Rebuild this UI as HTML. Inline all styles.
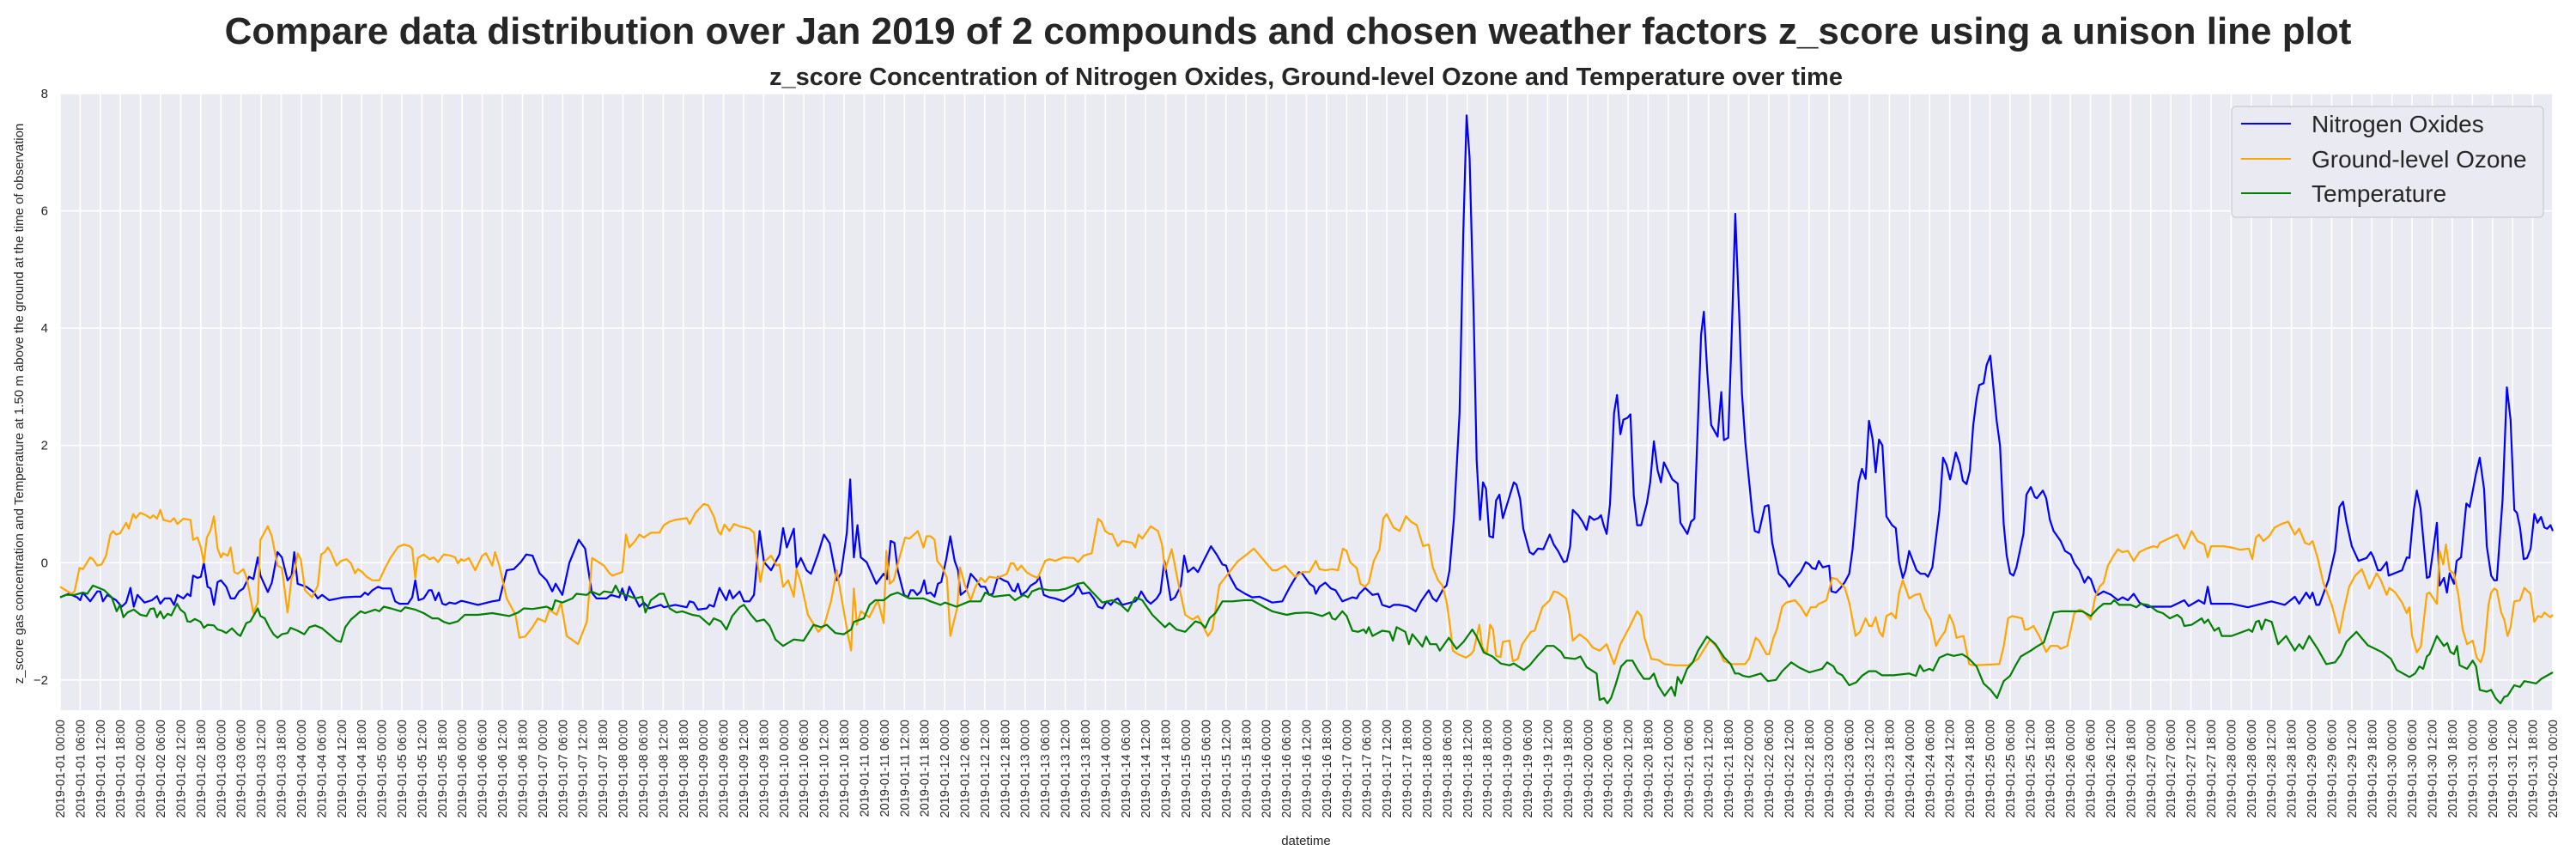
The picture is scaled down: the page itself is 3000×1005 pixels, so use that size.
<!DOCTYPE html>
<html><head><meta charset="utf-8">
<style>
html,body{margin:0;padding:0;background:#fff;}
body{width:3000px;height:1000px;overflow:hidden;font-family:"Liberation Sans",Arial,sans-serif;}
svg text{font-family:"Liberation Sans",Arial,sans-serif;}
</style></head>
<body>
<svg id="chart" width="3000" height="1000" xmlns="http://www.w3.org/2000/svg">
<text x="1500" y="51" text-anchor="middle" font-size="44" font-weight="bold" fill="#262626">Compare data distribution over Jan 2019 of 2 compounds and chosen weather factors z_score using a unison line plot</text>
<text x="1521" y="99" text-anchor="middle" font-size="29" font-weight="bold" fill="#262626">z_score Concentration of Nitrogen Oxides, Ground-level Ozone and Temperature over time</text>
<rect x="70" y="109" width="2903" height="718" fill="#eaeaf2"/>
<g id="grid"></g>
<g id="series"></g>
<g id="yticks"></g>
<g id="xticks"></g>
<text transform="translate(27,470) rotate(-90)" text-anchor="middle" font-size="15" fill="#262626">z_score gas concentration and Temperature at 1.50 m above the ground at the time of observation</text>
<text x="1521" y="984" text-anchor="middle" font-size="15" fill="#262626">datetime</text>
<g>
<rect x="2599" y="124" width="363" height="129" rx="5" fill="#eaeaf2" stroke="#d0d0d8" stroke-width="1.5"/>
<line x1="2610" y1="144" x2="2668" y2="144" stroke="#0000ff" stroke-width="2"/>
<text x="2692" y="154" font-size="28" fill="#262626">Nitrogen Oxides</text>
<line x1="2610" y1="185" x2="2668" y2="185" stroke="#ffa500" stroke-width="2"/>
<text x="2692" y="195" font-size="28" fill="#262626">Ground-level Ozone</text>
<line x1="2610" y1="225" x2="2668" y2="225" stroke="#008000" stroke-width="2"/>
<text x="2692" y="235" font-size="28" fill="#262626">Temperature</text>
</g>
</svg>
<script>
const yTickValues=[-2,0,2,4,6,8];
const yTickLabels=["\u22122","0","2","4","6","8"];
const noxHours=[0,2.6,5.1,6,6.8,9,11.1,12,12.8,14.1,16.7,18.4,19.7,21,22,23.1,25.2,27.4,28.9,29.9,31.2,32.9,34,35,36.8,38,38.9,39.7,41,42,42.9,44,44.9,45.9,47,48,49.6,50.9,52.1,53.4,54.7,56.4,57.7,59,59.8,62,63.2,64.9,66.2,67.9,69.1,69.9,70.9,73.5,75.6,76.9,78.2,80.3,82.9,84.6,88,89.7,91,91.9,93.2,94.9,96.2,98.7,100,101.3,103.8,105.1,106,107,108.5,110.1,110.9,112,113,114.1,115.1,116.2,117.9,119.7,
120.5,124.7,129,131.1,133.3,135.4,137.5,139.1,141,143.1,145.2,146.9,147.9,149.9,152,154.8,156.7,158.7,160.1,163.1,164.4,166.9,167.8,168.9,169.9,172.9,174.2,175.9,179.3,180.2,183.6,187,187.9,189.1,190.4,193,193.8,195.1,196.8,198.8,199.8,200.8,202.8,204.1,205.8,207.1,208.8,210.1,212.2,214.7,215.8,216.9,219,219.8,221.1,222.8,224.1,226.3,228,229.7,231.8,233.1,234.8,235.8,236.9,238,239,240.7,243.6,245.8,246.8,247.9,
249,250,251.9,253,253.9,254.7,255.8,256.9,257.9,258.7,259.8,261,262,263,264.5,265.7,267,268,268.8,270.5,271.8,273.5,274.8,276.1,277.3,278.4,279.9,281.6,282.9,284.2,285,285.9,286.9,288.4,289.7,291.4,292.3,293.6,295.3,297,299.5,302.5,303.8,305.1,307.2,308.5,309.8,311.1,312.4,313.6,314.7,315.7,317,320.9,321.7,322.7,324.3,325.5,327.3,328.4,329.6,331.5,332.8,334.5,335.5,336.6,338.3,339.6,341.8,343.5,345.2,346.9,348,349,351.1,353.7,355.8,358,361.8,364.8,366.9,369.7,370.8,
372.9,374.2,374.8,375.9,377.6,379.3,380.7,382.7,385.7,387,387.8,389.5,391.7,393.4,394.6,396.8,398,399.8,402.3,404.6,406.2,408.5,409.7,410.8,413,413.8,414.7,416,417.7,418.8,419.8,420.7,421.9,422.8,423.8,424.7,425.6,426.6,427.7,428.6,429.6,430.6,433.9,434.7,435.8,436.7,438.6,439.7,441.1,442.7,444.6,445.8,447.1,448.8,449.7,450.7,451.5,453.1,454.4,455.6,456.5,457.8,459.1,459.9,460.8,461.6,462.6,463.8,464.7,465.7,466.6,467.8,468.7,469.7,470.7,471.9,473.6,474.6,475.7,476.8,477.8,478.7,481.2,482.8,483.6,485.7,486.8,487.8,489.8,490.6,491.6,492.8,494.7,495.8,496.6,497.9,
499,500,501.2,502,503,505,505.8,507,508.8,509.9,511,513,515,516.1,518,519.5,521,522.1,522.9,524,524.9,526.1,528,528.7,530,531.4,532.7,534,535,536.8,537.8,538.9,539.9,541,541.9,542.9,543.9,545.1,546.8,547.9,548.9,550,550.8,551.9,554.1,555.3,556.6,557.5,558.8,560.9,562,563,564.1,565.8,567,567.9,569,570,571,572,572.8,574.1,575,576.1,578,579,580.1,581,582,583,583.9,586,586.9,588.2,589.4,590,591.8,592.8,593.9,595,597.1,598.4,600.1,601.2,602.7,604.2,605.3,606.1,607.4,608.2,609.9,612.2,614.2,615.6,617.2,618.9,620.6,623.1,
624,630,634,635.3,638.3,640,641,642,648,653,660,664,667,668.3,670.4,671.5,672.3,673.4,674.3,677,679,680.3,681.4,682.4,684,686,688.4,689.7,690.5,691.8,692.6,694.4,695,699,700.4,701.2,702.5,703.4,704.5,706.4,707.2,709.4,710.2,711.5,712.4,713.2,714.5,715.3,716.6,718.2,719.2,721,722.2,723.5,724.3,725.6,726.5,727.3,729,730.3,731.4,732.5,733.3,734.2,735.3,736.3,737.4,738.5,739.4,740.5,741.5,742.3,743.3,744];
const noxValues=[-0.59,-0.53,-0.59,-0.64,-0.51,-0.66,-0.49,-0.49,-0.66,-0.55,-0.64,-0.75,-0.68,-0.43,-0.75,-0.55,-0.68,-0.64,-0.57,-0.70,-0.61,-0.61,-0.72,-0.55,-0.61,-0.53,-0.57,-0.22,-0.26,-0.24,0,-0.41,-0.44,-0.72,-0.33,-0.30,-0.41,-0.61,-0.61,-0.49,-0.44,-0.24,-0.28,0.09,-0.22,-0.50,-0.34,0.18,0.09,-0.30,-0.22,0.18,-0.36,-0.41,-0.50,-0.61,-0.55,-0.64,-0.61,-0.59,-0.58,-0.58,-0.51,-0.55,-0.47,-0.41,-0.44,-0.44,-0.66,-0.70,-0.70,-0.59,-0.30,-0.64,-0.61,-0.47,-0.47,-0.64,-0.51,-0.70,-0.72,-0.68,-0.70,-0.65,
-0.66,-0.72,-0.66,-0.64,-0.13,-0.11,0.01,0.14,0.12,-0.18,-0.30,-0.49,-0.36,-0.55,0,0.39,0.24,-0.51,-0.61,-0.61,-0.55,-0.59,-0.44,-0.64,-0.41,-0.75,-0.68,-0.78,-0.72,-0.76,-0.72,-0.76,-0.66,-0.68,-0.80,-0.78,-0.72,-0.75,-0.43,-0.64,-0.47,-0.61,-0.49,-0.66,-0.66,-0.55,0.54,0.01,-0.13,0.14,0.59,0.26,0.58,-0.08,0.08,-0.13,-0.19,0.16,0.48,0.33,-0.30,-0.18,0.51,1.42,0.09,0.64,0.09,0.01,-0.36,-0.19,-0.28,0.37,
0.34,-0.13,-0.55,-0.59,-0.47,-0.47,-0.55,-0.49,-0.30,-0.53,-0.51,-0.58,-0.36,-0.33,0.06,0.45,0.03,-0.13,-0.55,-0.47,-0.19,-0.30,-0.41,-0.41,-0.55,-0.53,-0.24,-0.30,-0.33,-0.47,-0.49,-0.36,-0.55,-0.49,-0.39,-0.33,-0.24,-0.55,-0.59,-0.61,-0.66,-0.53,-0.39,-0.53,-0.51,-0.61,-0.75,-0.78,-0.66,-0.72,-0.64,-0.61,-0.72,-0.66,-0.61,-0.49,-0.64,-0.70,-0.61,-0.51,0.03,-0.64,-0.59,-0.39,0.12,-0.16,-0.08,-0.16,0.09,0.28,0.14,-0.03,-0.05,-0.22,-0.44,-0.53,-0.59,-0.58,-0.68,-0.66,-0.43,-0.16,-0.19,
-0.36,-0.41,-0.53,-0.41,-0.34,-0.44,-0.47,-0.66,-0.59,-0.61,-0.53,-0.43,-0.55,-0.53,-0.72,-0.76,-0.72,-0.72,-0.75,-0.83,-0.66,-0.47,-0.61,-0.66,-0.43,-0.39,-0.13,0.75,2.55,5.6,7.63,6.9,4.26,1.75,0.73,1.37,1.26,0.45,0.43,1.06,1.16,0.76,1.37,1.33,1.08,0.58,0.18,0.14,0.24,0.23,0.48,0.31,0.20,0.01,0.03,0.28,0.90,0.81,0.70,0.56,0.79,0.73,0.76,0.81,0.62,0.49,1.0,2.55,2.86,2.19,2.44,2.47,2.53,1.14,0.64,0.64,1.01,1.37,2.07,1.58,1.37,1.71,1.42,1.35,0.68,0.49,0.70,0.75,3.89,4.28,3.27,2.35,2.15,2.91,2.09,2.13,
4.0,5.95,4.18,2.88,2.05,0.87,0.54,0.51,0.96,0.98,0.34,-0.19,-0.30,-0.41,-0.26,-0.16,0.01,-0.03,-0.09,-0.11,0.03,-0.08,-0.05,-0.49,-0.51,-0.43,-0.33,-0.19,0.23,1.37,1.60,1.43,2.42,2.10,1.54,2.10,2.0,0.79,0.64,0.59,0.01,-0.26,-0.13,0.20,-0.13,-0.19,-0.19,-0.24,-0.08,0.89,1.79,1.67,1.42,1.88,1.68,1.40,1.34,1.57,2.34,2.80,3.03,3.06,3.37,3.53,2.42,2.0,0.66,0.12,-0.18,-0.22,-0.08,0.49,1.16,1.29,1.12,1.10,1.23,1.10,0.73,0.54,0.37,0.20,0.14,-0.01,-0.13,-0.34,-0.24,-0.28,-0.49,-0.55,-0.49,-0.55,-0.64,-0.59,-0.64,-0.53,-0.68,-0.76,
-0.75,-0.75,-0.64,-0.74,-0.64,-0.70,-0.41,-0.70,-0.70,-0.76,-0.66,-0.72,-0.58,-0.70,-0.51,-0.61,-0.51,-0.72,-0.72,-0.30,0.20,0.95,1.04,0.70,0.28,0.03,0.08,0.18,0.09,-0.13,-0.13,0.01,-0.22,-0.13,0.09,0.08,0.90,1.23,0.93,-0.26,-0.24,0.68,-0.39,-0.26,-0.51,-0.18,-0.36,0.03,0.09,1.01,0.95,1.5,1.79,1.25,0.28,-0.22,-0.30,-0.30,1.08,2.99,2.44,0.90,0.85,0.60,0.06,0.08,0.24,0.83,0.68,0.78,0.60,0.58,0.64,0.54];
const ozoneHours=[0,1.7,3.4,4.3,5.8,6.8,9,9.8,11.1,12.4,13.7,15,15.8,16.7,17.9,19.7,20.5,21.8,22.6,23.9,25.6,26.9,27.8,28.9,29.9,30.8,32.9,34,35,36.8,38.9,39.7,41,42,42.9,43.8,44.9,45.9,47,48,48.7,50,50.9,52,53,54.7,55.6,56.4,57.7,59,59.8,62,63.2,64.9,66.2,67.9,69.1,70.1,70.9,71.8,73.1,75.2,76.9,77.9,79,79.9,80.8,82.5,83.8,85.5,86.8,88,88.9,90.2,91.5,93.2,95.3,97,98.7,100.9,102.6,104.3,105.1,106,106.8,108.5,110.3,111.5,112.8,114.5,116.6,117.9,118.7,119.7,
120.5,122,123.9,126,127.1,129,129.8,131.1,133.3,135.9,137.1,138.8,141,142.6,144.8,146,148.2,149.5,151.2,154.6,157.2,158.8,162.3,164,164.8,167.8,168.9,169.9,171.6,172.9,174.2,176.3,178.9,180.2,181.9,183.6,187,187.9,189.6,192.1,193.4,195.1,196.4,197.2,198.3,199.8,201.1,202.8,205.8,207.1,207.9,209,210.1,212.2,213.9,214.7,215.8,217.3,219,219.8,221.1,223.2,226.3,228,230.1,231.8,234,235.2,236.1,236.9,237.8,239,241.5,244.1,245.8,246.6,247.6,
248.8,250.5,252.2,253.5,256,257.7,258.6,259.8,261,261.8,263.3,264.7,265.7,267.8,268.6,270.1,271.8,273.2,274.8,276.1,277.3,279.5,281.4,282.6,283.7,284.6,285.7,286.9,288.4,290.1,291.8,294,295.3,297,299.5,302.5,303.8,305.5,307.9,309.8,310.8,311.9,313.2,314,315.7,317,320,320.9,321.9,323,325.5,327.7,328.9,329.8,331.8,333.7,335.8,338,339.6,342.6,343.9,346,348.2,349.4,351.6,353.7,356.3,357.5,359.7,361.8,363.1,365.6,368.6,370.8,
372.9,374.8,375.9,377.6,379.7,381.4,382.9,384,385,387,388.1,389.5,390.6,392.1,393.8,394.9,395.9,398,399.8,401.7,403.2,404.9,406.8,408.5,409.7,411.3,412.6,413.8,414.9,415.7,417.2,419.6,421.1,421.9,423.6,424.4,425.8,426.8,427.7,428.6,429.9,430.6,432.6,433.6,435.1,436.4,439,440.1,442.4,444.6,445.8,447.1,449.5,450.5,451.5,453.5,455.6,457.5,459.5,461.6,463.8,465.7,468.4,470.7,471.9,472.9,474.9,477,478.9,482.1,485.9,488.9,492.5,494.9,496.6,
499,502.9,504.1,506.1,507.1,509.3,510.1,511.4,512.4,514,515.2,517.8,519.5,521.2,522.5,524,524.9,525.9,527.2,528.9,530.3,532.7,534,535.9,537.2,538.9,540,540.8,541.9,543,544,545.1,546.6,547.9,548.9,550,551.9,553.6,555.1,556.6,558.3,559.9,560.9,562.6,563.9,565.2,566,568.1,569.8,571.1,578.8,580.1,581.4,582.6,585.6,586.4,587.3,589,590.7,592.8,594.1,596.2,597.1,599.1,601.2,602.7,603.9,606.1,607.4,608.7,609.9,611.2,612.9,614.2,615.5,617.2,618.9,620.6,622.7,624.8,
626,626.7,629.3,631.9,634,636.2,637.9,640,641,642,645.6,648,650.7,653.3,654.3,655.4,656.3,657.6,659.3,661,663,665,667,668.3,670,671.3,672.3,673.8,675.5,678,680.3,681.5,683.2,685,687,689.2,691.4,692.7,694.4,695.2,697,699,700.4,701.2,702,703.4,704.6,706.4,707.2,709.4,710.2,711.3,712.1,713.2,714.5,715.8,717.1,718.4,720.1,721.3,722.5,723.5,724.8,725.6,726.5,727.3,728.6,729.5,730.5,731.4,732.5,734.2,735.5,737.3,738.5,739.6,740.6,741.5,743.2,744];
const ozoneValues=[-0.41,-0.47,-0.53,-0.49,-0.09,-0.11,0.09,0.06,-0.05,-0.03,0.12,0.48,0.54,0.48,0.50,0.68,0.58,0.83,0.76,0.85,0.81,0.76,0.81,0.75,0.90,0.73,0.70,0.76,0.66,0.75,0.73,0.39,0.43,0.26,0,0.43,0.55,0.79,0.24,0.09,0.16,0.12,0.26,-0.16,-0.19,-0.11,-0.24,-0.47,-0.86,-0.68,0.39,0.62,0.45,-0.05,-0.09,-0.85,-0.26,-0.13,0.16,0.06,-0.47,-0.59,-0.39,0.14,0.18,0.26,0.18,-0.05,0.03,0.06,-0.01,-0.18,-0.11,-0.16,-0.24,-0.30,-0.30,-0.09,0.09,0.27,0.31,0.28,0.24,-0.26,0.08,0.14,0.06,0.09,0.01,0.14,0.12,0.09,-0.01,0.06,
0.03,0.08,-0.13,0.12,0.16,-0.05,0.18,-0.05,-0.61,-0.89,-1.28,-1.26,-1.10,-0.95,-1.01,-0.80,-0.89,-0.68,-1.25,-1.39,-1.01,0.08,-0.05,-0.18,-0.22,-0.16,0.48,0.26,0.37,0.48,0.43,0.51,0.51,0.64,0.70,0.73,0.76,0.66,0.85,1.0,0.98,0.79,0.54,0.48,0.65,0.54,0.66,0.62,0.58,0.51,0.08,-0.33,0.01,0.12,-0.05,-0.03,-0.41,-0.30,-0.58,-0.11,-0.33,-0.89,-1.18,-1.08,-0.66,-0.13,-0.85,-1.25,-1.50,-0.44,-1.06,-0.83,-0.93,-0.64,-1.03,0.20,-0.36,
-0.30,0.08,0.43,0.41,0.54,0.26,0.45,0.45,0.39,0.03,-0.08,-0.26,-1.25,-0.76,-0.08,-0.39,-0.64,-0.41,-0.26,-0.33,-0.24,-0.26,-0.22,-0.19,-0.01,-0.01,-0.13,-0.05,-0.16,-0.22,-0.26,0.03,0.06,0.03,0.09,0.08,0.01,0.12,0.16,0.75,0.70,0.54,0.49,0.49,0.28,0.37,0.34,0.26,0.48,0.41,0.62,0.54,0.31,-0.13,0.23,-0.34,-0.89,-0.97,-0.91,-1.25,-1.14,-0.38,-0.22,-0.13,0.03,0.12,0.24,0.16,0.01,-0.13,-0.13,-0.05,-0.24,-0.16,
-0.16,0.03,-0.11,-0.13,-0.11,-0.13,0.24,0.20,0.01,-0.09,-0.36,-0.41,-0.34,0.03,0.23,0.75,0.83,0.60,0.54,0.79,0.70,0.64,0.28,0.31,-0.08,-0.30,-0.39,-0.66,-1.10,-1.50,-1.56,-1.62,-1.56,-1.50,-1.06,-1.43,-1.56,-1.06,-1.14,-1.59,-1.61,-1.35,-1.33,-1.68,-1.64,-1.39,-1.18,-1.16,-0.76,-0.64,-0.49,-0.51,-0.61,-0.89,-1.33,-1.22,-1.31,-1.45,-1.50,-1.39,-1.73,-1.39,-1.10,-0.83,-0.91,-1.28,-1.64,-1.66,-1.73,-1.75,-1.75,-1.64,-1.31,-1.47,-1.68,
-1.73,-1.73,-1.64,-1.28,-1.33,-1.56,-1.56,-1.28,-1.14,-0.75,-0.68,-0.64,-0.75,-0.91,-0.76,-0.76,-0.70,-0.68,-0.64,-0.26,-0.28,-0.43,-0.68,-1.25,-1.18,-0.95,-1.08,-1.08,-0.93,-1.18,-1.26,-0.91,-0.86,-0.95,-0.51,-0.30,-0.61,-0.55,-0.53,-0.80,-0.97,-1.42,-1.31,-1.17,-0.89,-1.06,-1.28,-1.25,-1.73,-1.75,-1.73,-1.43,-0.95,-0.91,-0.95,-1.14,-1.14,-1.08,-1.25,-1.52,-1.42,-1.42,-1.47,-1.42,-0.86,-0.80,-0.83,-0.97,-0.59,-0.41,-0.34,-0.05,0.12,0.23,0.18,0.20,0.03,0.18,0.24,0.28,
0.26,0.34,0.41,0.48,0.24,0.54,0.37,0.31,0.09,0.28,0.28,0.26,0.22,0.24,0.06,0.43,0.48,0.37,0.45,0.60,0.66,0.70,0.48,0.58,0.34,0.31,0.37,0.08,-0.34,-0.72,-1.20,-0.85,-0.41,-0.22,-0.11,-0.44,-0.18,-0.30,-0.55,-0.43,-0.51,-0.68,-0.86,-0.76,-1.25,-1.53,-1.43,-0.53,-0.51,-0.70,0.20,-0.03,0.31,-0.13,-0.19,-0.55,-1.14,-1.39,-1.33,-1.62,-1.70,-1.52,-0.72,-0.51,-0.44,-0.47,-0.85,-0.97,-1.25,-1.10,-0.66,-0.64,-0.43,-0.53,-1.01,-0.91,-0.93,-0.85,-0.93,-0.89];
const tempHours=[0,1.7,4.3,6.8,8.1,9.8,11.5,13.2,15.4,16.9,17.9,18.9,20.1,22,24,25.8,26.9,28,28.9,29.9,30.9,32.1,33.2,34.9,35.9,37.2,38,38.9,40.2,41.9,42.9,44,45.9,47,48.3,49.6,51.3,53,53.8,55.6,56.8,59,59.8,61.1,62.4,63.7,64.9,66.2,67.9,68.8,70.9,72.9,74.4,76.1,78.2,80.3,82.5,83.8,85.1,86.8,89.7,91,94,95.3,96.6,98.7,101.7,103,106,108.5,111.1,112.8,114.5,116.2,118.7,120.8,
124.7,129,134.1,136.7,138.4,141,145.2,146.9,147.8,149.9,152.9,154.1,157.2,158.5,161,162.3,164.8,165.8,166.9,171.6,173.7,174.7,176.3,178.9,180.2,181.9,184,185.7,188.7,190.8,193.8,195.1,197.2,198.9,200.6,202.8,204.1,206.2,207.9,210.1,211.8,213.5,215.8,219,221.9,224.9,227.1,228.8,231.4,233.9,236.1,236.9,239.9,241.6,243.3,245.8,247.9,
250,253.5,257.7,259.8,262.8,264.1,267.5,271.4,274.8,276.1,278.7,283.3,285,287.6,288.9,290.1,292.3,295.3,297.8,300.4,303.8,305.5,307.9,311.1,314,316.6,318.7,320.9,323,326,329.8,331.1,333.2,335.8,338.8,340.5,341.8,343.1,344.8,346.9,349.9,353.3,355.8,359.2,361.8,366.1,368.6,372.1,
373.7,376.7,378.9,379.7,380.6,382.7,384,385.7,387.4,389.1,389.8,390.6,391.7,394.6,396.8,397.8,398.9,401.5,402.6,403.6,406.6,407.7,408.9,410.8,411.8,414.5,416.8,418.9,421.5,422.8,424.9,427.5,430,432.6,433.9,436.9,438.6,441.1,443.7,445.8,448,449,452.2,453.8,455.6,458.6,459.5,460.8,461.8,462.9,464.2,465.9,467.6,469.3,471,472.7,474.4,475.7,477,478.9,480.9,482,482.8,483.9,485.6,487.3,488.9,491.5,494.1,496.6,
498.6,499.9,501,502.4,504.1,507.6,509.7,512.1,514,516.7,519.1,522.1,525.9,527.4,529.3,530.3,531.9,534,536.1,537.8,539.9,541.9,543.8,547.2,551.9,553.9,555.1,556.2,557.9,559,560.9,563.3,565.2,567.7,569.4,572,574.1,576.2,578.1,580.1,582,583.5,585.2,588.2,590,592.1,595,597.1,601,603.6,606.1,608.2,609.9,612.1,613.1,614.6,618,619.7,621,623.1,
624,625.9,627.6,629.7,631.9,633.2,634,636.2,639.2,640,641.1,643,644.3,645.2,648.1,653.3,654.3,655.4,656.3,657.1,658.2,660.1,662,664.4,667,668.3,669.4,671.3,673.8,676.4,679,680.8,682.4,685.4,688.8,691,693.1,695.7,697.4,701.2,702.9,704.2,705.3,706.4,707.2,709.4,711.5,712.5,713.4,714.5,715.4,716.2,718.4,720.1,721.1,722.2,724.3,725.6,726.9,728.4,729.5,730.5,732.5,734.2,735.5,737.3,739,740.6,744];
const tempValues=[-0.59,-0.55,-0.55,-0.51,-0.53,-0.39,-0.43,-0.47,-0.59,-0.83,-0.72,-0.93,-0.85,-0.80,-0.89,-0.91,-0.79,-0.78,-0.93,-0.83,-0.95,-0.87,-0.90,-0.70,-0.80,-0.86,-1.0,-1.01,-0.96,-1.01,-1.11,-1.06,-1.07,-1.14,-1.16,-1.20,-1.12,-1.22,-1.25,-1.03,-1.0,-0.78,-0.91,-0.95,-1.10,-1.22,-1.28,-1.22,-1.20,-1.11,-1.16,-1.22,-1.10,-1.07,-1.12,-1.22,-1.33,-1.35,-1.10,-0.97,-0.83,-0.86,-0.80,-0.83,-0.75,-0.78,-0.83,-0.76,-0.80,-0.86,-0.95,-0.95,-1.01,-1.04,-1.0,-0.89,
-0.89,-0.86,-0.91,-0.85,-0.78,-0.79,-0.75,-0.80,-0.64,-0.68,-0.61,-0.53,-0.55,-0.49,-0.55,-0.49,-0.51,-0.39,-0.51,-0.61,-0.58,-0.85,-0.64,-0.53,-0.53,-0.78,-0.85,-0.83,-0.89,-0.91,-1.06,-0.95,-1.0,-1.14,-0.91,-0.76,-0.72,-0.89,-1.0,-0.97,-1.08,-1.31,-1.42,-1.31,-1.33,-1.06,-1.10,-1.06,-1.20,-1.22,-1.14,-1.01,-0.95,-0.72,-0.64,-0.64,-0.55,
-0.51,-0.61,-0.61,-0.66,-0.72,-0.68,-0.75,-0.66,-0.66,-0.51,-0.58,-0.55,-0.64,-0.55,-0.59,-0.49,-0.44,-0.47,-0.47,-0.44,-0.36,-0.34,-0.49,-0.68,-0.64,-0.72,-0.83,-0.59,-0.64,-0.89,-1.10,-1.03,-1.14,-1.18,-1.0,-1.03,-1.11,-0.95,-0.86,-0.66,-0.66,-0.64,-0.64,-0.75,-0.83,-0.89,-0.86,-0.85,
-0.86,-0.91,-0.85,-0.95,-0.97,-0.83,-0.91,-1.16,-1.18,-1.14,-1.20,-1.10,-1.25,-1.16,-1.18,-1.33,-1.10,-1.18,-1.39,-1.22,-1.43,-1.26,-1.39,-1.39,-1.50,-1.28,-1.47,-1.35,-1.14,-1.26,-1.53,-1.60,-1.72,-1.75,-1.72,-1.83,-1.75,-1.58,-1.42,-1.42,-1.52,-1.62,-1.64,-1.60,-1.78,-1.89,-2.34,-2.31,-2.40,-2.31,-2.09,-1.77,-1.67,-1.67,-1.84,-1.98,-1.98,-1.89,-2.10,-2.27,-2.12,-2.27,-1.95,-2.06,-1.81,-1.70,-1.50,-1.26,-1.39,-1.61,
-1.73,-1.89,-1.89,-1.93,-1.95,-1.89,-2.02,-2.0,-1.85,-1.70,-1.79,-1.87,-1.81,-1.70,-1.77,-1.87,-1.92,-2.09,-2.04,-1.93,-1.85,-1.85,-1.92,-1.92,-1.89,-1.93,-1.75,-1.85,-1.81,-1.84,-1.62,-1.56,-1.59,-1.56,-1.62,-1.77,-2.06,-2.17,-2.31,-2.02,-1.93,-1.77,-1.60,-1.50,-1.43,-1.36,-0.85,-0.83,-0.83,-0.83,-0.91,-0.78,-0.70,-0.70,-0.64,-0.72,-0.72,-0.76,-0.70,-0.72,
-0.75,-0.83,-0.86,-0.95,-0.89,-0.95,-1.08,-1.06,-0.95,-1.03,-0.97,-1.16,-1.11,-1.25,-1.25,-1.14,-1.18,-1.01,-0.99,-1.14,-0.97,-1.01,-1.39,-1.25,-1.50,-1.39,-1.47,-1.25,-1.47,-1.73,-1.70,-1.56,-1.35,-1.18,-1.41,-1.47,-1.53,-1.64,-1.83,-1.95,-1.89,-1.77,-1.81,-1.60,-1.56,-1.25,-1.42,-1.37,-1.52,-1.56,-1.42,-1.75,-1.81,-1.67,-1.77,-2.17,-2.20,-2.17,-2.31,-2.40,-2.29,-2.27,-2.09,-2.12,-2.02,-2.04,-2.06,-1.98,-1.87];

const NS="http://www.w3.org/2000/svg";
const X0=70,X1=2973,Y0=109,Y1=827,HMAX=744,VMIN=-2.515,VMAX=8;
function xScale(h){return X0+(h/HMAX)*(X1-X0);}
function yScale(v){return Y1-(v-VMIN)/(VMAX-VMIN)*(Y1-Y0);}
function mk(tag,attrs,parent){const e=document.createElementNS(NS,tag);for(const k in attrs)e.setAttribute(k,attrs[k]);parent.appendChild(e);return e;}
const grid=document.getElementById('grid');
const yt=document.getElementById('yticks');
const xt=document.getElementById('xticks');
yTickValues.forEach((v,i)=>{
  const ln=mk('line',{x1:X0,x2:X1,y1:yScale(v),y2:yScale(v),stroke:'#fff','stroke-width':1.6},grid);
  
  
  const t=mk('text',{x:56,y:yScale(v)+5,'text-anchor':'end','font-size':15,fill:'#262626'},yt);
  t.textContent=yTickLabels[i];
  
  
});
function pad(n){return n<10?'0'+n:''+n;}
for(let h=0;h<=HMAX;h+=6){
  const x=xScale(h);
  const ln=mk('line',{x1:x,x2:x,y1:Y0,y2:Y1,stroke:'#fff','stroke-width':1.6},grid);
  
  
  const d=new Date(Date.UTC(2019,0,1,0)+h*3600000);
  const lbl=d.getUTCFullYear()+'-'+pad(d.getUTCMonth()+1)+'-'+pad(d.getUTCDate())+' '+pad(d.getUTCHours())+':00';
  const t=mk('text',{transform:'translate('+(x+5)+',838) rotate(-90)','text-anchor':'end','font-size':14.5,fill:'#262626'},xt);
  t.textContent=lbl;
  
  
}
const series=document.getElementById('series');
function drawLine(hours,vals,color,name){
  let d='';
  for(let i=0;i<hours.length;i++){d+=(i?'L':'M')+xScale(hours[i]).toFixed(1)+','+yScale(vals[i]).toFixed(1);}
  const p=mk('path',{d:d,fill:'none',stroke:color,'stroke-width':2.2,'stroke-linejoin':'round'},series);
  
  
}
drawLine(noxHours,noxValues,'#0000ff','nitrogen-oxides-line');
drawLine(ozoneHours,ozoneValues,'#ffa500','ground-level-ozone-line');
drawLine(tempHours,tempValues,'#008000','temperature-line');
</script>
</body></html>
